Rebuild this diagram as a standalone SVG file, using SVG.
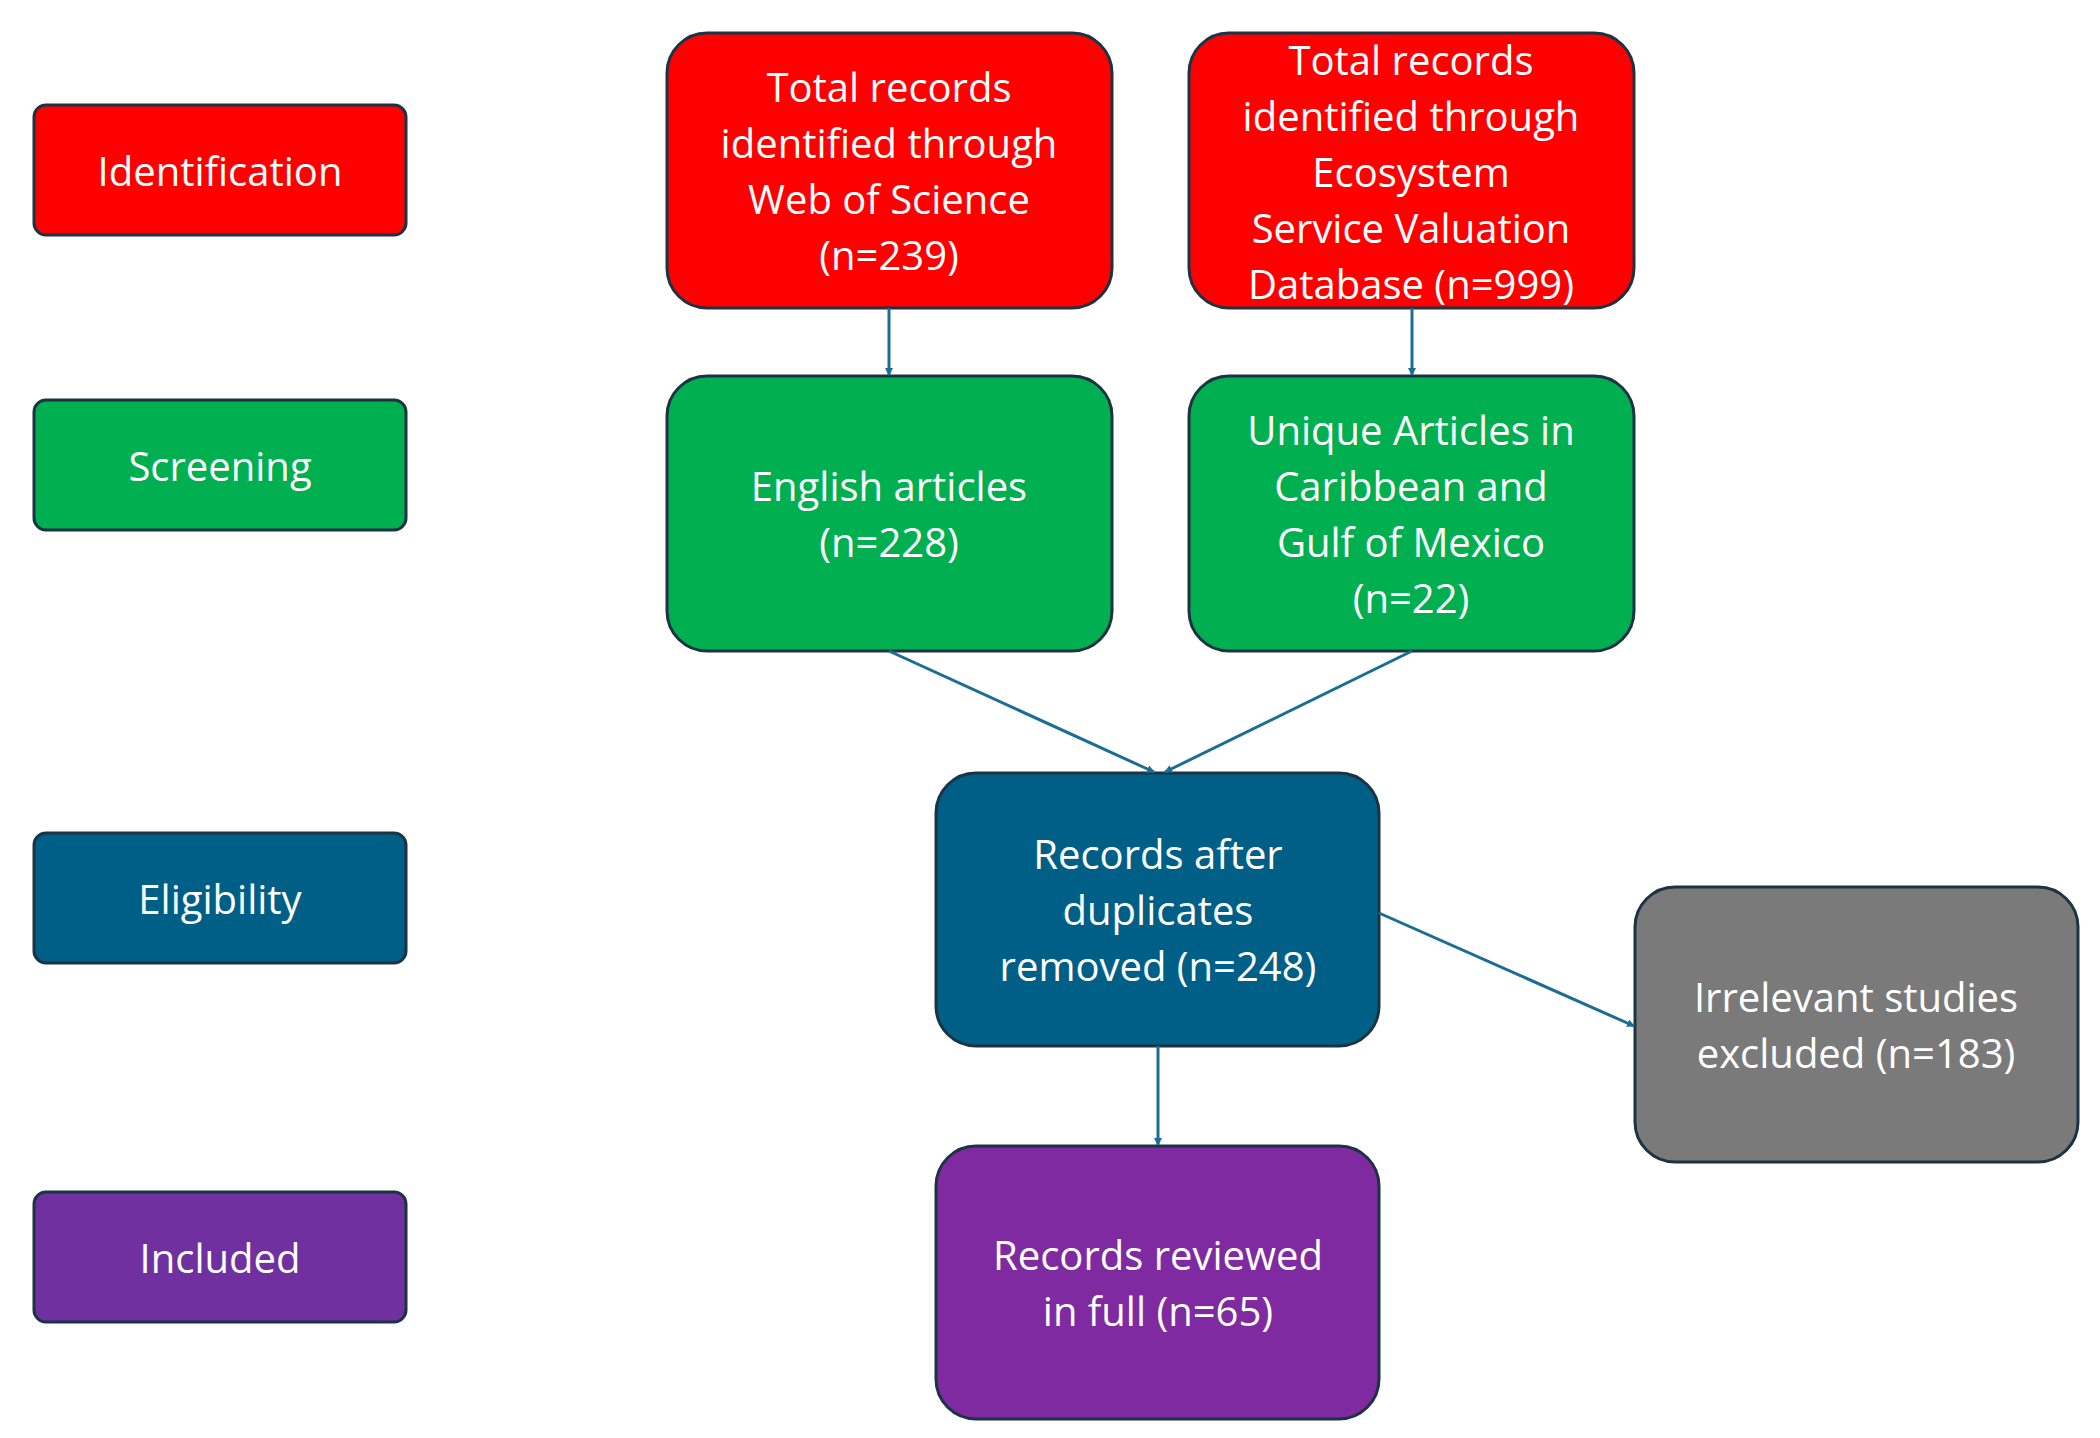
<svg xmlns="http://www.w3.org/2000/svg" width="2100" height="1438" viewBox="0 0 2100 1438">
<style>
text{font-family:"Open Sans","Liberation Sans",sans-serif;font-size:40px;fill:#fff;text-anchor:middle;dominant-baseline:central}
.n{stroke:#1c3344;stroke-width:3}
.c{stroke:#1a6d93;stroke-width:3;fill:none;marker-end:url(#a)}
</style>
<defs><marker id="a" markerWidth="8" markerHeight="8" refX="7" refY="4" orient="auto" markerUnits="userSpaceOnUse"><path d="M0,0L8,4L0,8z" fill="#1a6d93"/></marker></defs>
<rect width="2100" height="1438" fill="#fff"/>
<g id="lab-ident"><rect class="n" x="34" y="105" width="372" height="130" rx="12" fill="#ff0000"/><text x="220" y="170">Identification</text></g>
<g id="lab-screen"><rect class="n" x="34" y="400" width="372" height="130" rx="12" fill="#00b050"/><text x="220" y="465">Screening</text></g>
<g id="lab-elig"><rect class="n" x="34" y="833" width="372" height="130" rx="12" fill="#005f86"/><text x="220" y="898">Eligibility</text></g>
<g id="lab-incl"><rect class="n" x="34" y="1192" width="372" height="130" rx="12" fill="#7030a0"/><text x="220" y="1257">Included</text></g>
<g id="wos"><rect class="n" x="667" y="33" width="445" height="275" rx="40" fill="#ff0000"/><text x="889" y="86">Total records</text><text x="889" y="142">identified through</text><text x="889" y="198">Web of Science</text><text x="889" y="254">(n=239)</text></g>
<g id="esvd"><rect class="n" x="1189" y="33" width="445" height="275" rx="40" fill="#ff0000"/><text x="1411" y="59">Total records</text><text x="1411" y="115">identified through</text><text x="1411" y="171">Ecosystem</text><text x="1411" y="227">Service Valuation</text><text x="1411" y="283">Database (n=999)</text></g>
<g id="eng"><rect class="n" x="667" y="376" width="445" height="275" rx="40" fill="#00b050"/><text x="889" y="485">English articles</text><text x="889" y="541">(n=228)</text></g>
<g id="uniq"><rect class="n" x="1189" y="376" width="445" height="275" rx="40" fill="#00b050"/><text x="1411" y="429">Unique Articles in</text><text x="1411" y="485">Caribbean and</text><text x="1411" y="541">Gulf of Mexico</text><text x="1411" y="597">(n=22)</text></g>
<g id="dup"><rect class="n" x="936" y="773" width="443" height="273" rx="40" fill="#005f86"/><text x="1158" y="853">Records after</text><text x="1158" y="909">duplicates</text><text x="1158" y="965">removed (n=248)</text></g>
<g id="irr"><rect class="n" x="1635" y="887" width="443" height="275" rx="40" fill="#7a7a7a"/><text x="1856" y="996">Irrelevant studies</text><text x="1856" y="1052">excluded (n=183)</text></g>
<g id="full"><rect class="n" x="936" y="1146" width="443" height="273" rx="40" fill="#7f2aa0"/><text x="1158" y="1254">Records reviewed</text><text x="1158" y="1310">in full (n=65)</text></g>
<g id="connectors">
<path class="c" d="M889,308V375"/>
<path class="c" d="M1412,308V375"/>
<path class="c" d="M889,651L1154,772"/>
<path class="c" d="M1412,651L1165,772"/>
<path class="c" d="M1158,1046V1145"/>
<path class="c" d="M1379,913L1634,1026"/>
</g>
</svg>
